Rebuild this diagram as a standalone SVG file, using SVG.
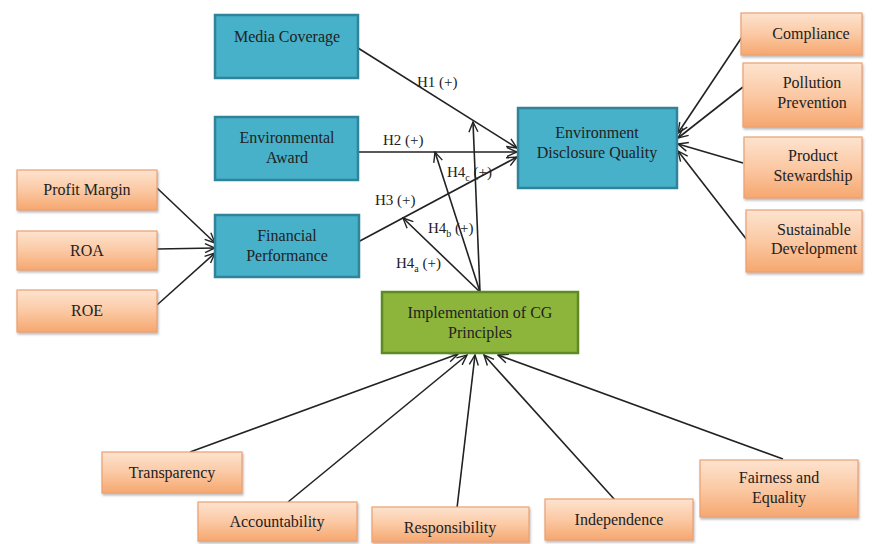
<svg xmlns="http://www.w3.org/2000/svg" width="874" height="544" viewBox="0 0 874 544">
<defs>
<linearGradient id="og" x1="0" y1="0" x2="0" y2="1">
<stop offset="0" stop-color="#fde3cf"/>
<stop offset="0.5" stop-color="#fbc9a4"/>
<stop offset="1" stop-color="#f6a76f"/>
</linearGradient>
<filter id="sh" x="-5%" y="-5%" width="115%" height="130%">
<feDropShadow dx="1" dy="2" stdDeviation="1.2" flood-color="#777" flood-opacity="0.5"/>
</filter>
<marker id="ar" viewBox="0 0 12 12" refX="11" refY="6" markerWidth="12" markerHeight="12" markerUnits="userSpaceOnUse" orient="auto">
<path d="M1,1.5 L11,6 L1,10.5" fill="none" stroke="#222" stroke-width="1.4"/>
</marker>
</defs>
<style>
text{font-family:"Liberation Serif","Times New Roman",serif;font-size:16px;fill:#222;text-anchor:middle}
.lbl{text-anchor:start;font-size:15px}
.o{fill:url(#og);stroke:#eba172;stroke-width:1.2;filter:url(#sh)}
.t{fill:#46b1c9;stroke:#2f8499;stroke-width:2.5}
.g{fill:#8db53c;stroke:#5e8a26;stroke-width:2.5}
.c line{stroke:#222;stroke-width:1.6;marker-end:url(#ar)}
</style>
<rect width="874" height="544" fill="#fff"/>

<g class="c" id="connectors">
<line x1="358" y1="48" x2="517" y2="148"/>
<line x1="358" y1="152" x2="517" y2="152"/>
<line x1="358" y1="242" x2="517" y2="157"/>
<line x1="480" y1="292" x2="473" y2="122"/>
<line x1="480" y1="292" x2="435" y2="152"/>
<line x1="480" y1="292" x2="403" y2="218"/>
<line x1="157" y1="188" x2="215" y2="243"/>
<line x1="157" y1="249" x2="215" y2="248"/>
<line x1="157" y1="305" x2="215" y2="253"/>
<line x1="742" y1="37" x2="678" y2="133"/>
<line x1="743" y1="87" x2="678" y2="138"/>
<line x1="743" y1="163" x2="678" y2="144"/>
<line x1="747" y1="240" x2="678" y2="151"/>
<line x1="190" y1="452" x2="458" y2="354"/>
<line x1="288" y1="502" x2="467" y2="355"/>
<line x1="457" y1="508" x2="475" y2="355"/>
<line x1="615" y1="500" x2="484" y2="355"/>
<line x1="783" y1="459" x2="498" y2="355"/>
</g>

<g id="labels">
<text class="lbl" x="417" y="87">H1 (+)</text>
<text class="lbl" x="383" y="145">H2 (+)</text>
<text class="lbl" x="447" y="177">H4<tspan font-size="10" dy="4">c</tspan><tspan dy="-4"> (+)</tspan></text>
<text class="lbl" x="375" y="205">H3 (+)</text>
<text class="lbl" x="428" y="233">H4<tspan font-size="10" dy="4">b</tspan><tspan dy="-4"> (+)</tspan></text>
<text class="lbl" x="396" y="268">H4<tspan font-size="10" dy="4">a</tspan><tspan dy="-4"> (+)</tspan></text>
</g>

<g id="media-coverage"><rect class="t" x="215" y="15" width="143" height="63"/><text x="287" y="42">Media Coverage</text></g>
<g id="environmental-award"><rect class="t" x="215" y="117" width="143" height="63"/><text x="287" y="143">Environmental</text><text x="287" y="163">Award</text></g>
<g id="financial-performance"><rect class="t" x="215" y="215" width="144" height="62"/><text x="287" y="241">Financial</text><text x="287" y="261">Performance</text></g>
<g id="edq"><rect class="t" x="518" y="108" width="159" height="80"/><text x="597" y="138">Environment</text><text x="597" y="158">Disclosure Quality</text></g>
<g id="implementation"><rect class="g" x="382" y="292" width="196" height="61"/><text x="480" y="318">Implementation of CG</text><text x="480" y="338">Principles</text></g>

<g id="profit-margin"><rect class="o" x="17" y="170" width="140" height="40"/><text x="87" y="195">Profit Margin</text></g>
<g id="roa"><rect class="o" x="17" y="231" width="140" height="39"/><text x="87" y="256">ROA</text></g>
<g id="roe"><rect class="o" x="17" y="290" width="140" height="42"/><text x="87" y="316">ROE</text></g>

<g id="compliance"><rect class="o" x="741" y="13" width="121" height="42"/><text x="811" y="39">Compliance</text></g>
<g id="pollution-prevention"><rect class="o" x="743" y="63" width="119" height="64"/><text x="812" y="88">Pollution</text><text x="812" y="108">Prevention</text></g>
<g id="product-stewardship"><rect class="o" x="744" y="137" width="118" height="61"/><text x="813" y="161">Product</text><text x="813" y="181">Stewardship</text></g>
<g id="sustainable-development"><rect class="o" x="746" y="210" width="116" height="62"/><text x="814" y="235">Sustainable</text><text x="814" y="254">Development</text></g>

<g id="transparency"><rect class="o" x="102" y="452" width="140" height="41"/><text x="172" y="478">Transparency</text></g>
<g id="accountability"><rect class="o" x="198" y="502" width="159" height="39"/><text x="277" y="527">Accountability</text></g>
<g id="responsibility"><rect class="o" x="372" y="507" width="157" height="35"/><text x="450" y="533">Responsibility</text></g>
<g id="independence"><rect class="o" x="545" y="499" width="148" height="41"/><text x="619" y="525">Independence</text></g>
<g id="fairness"><rect class="o" x="700" y="460" width="158" height="57"/><text x="779" y="483">Fairness and</text><text x="779" y="503">Equality</text></g>
</svg>
